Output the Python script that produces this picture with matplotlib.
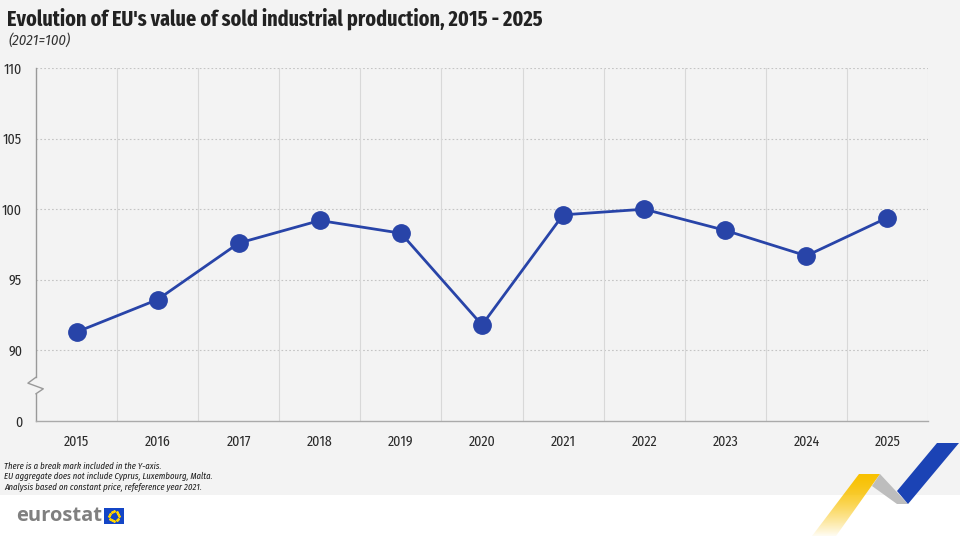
import numpy as np
import matplotlib.pyplot as plt
from matplotlib.patches import Polygon, Rectangle

years = ['2015', '2016', '2017', '2018', '2019', '2020',
         '2021', '2022', '2023', '2024', '2025']
values = [91.3, 93.6, 97.6, 99.2, 98.3, 91.8, 99.6, 100.0, 98.5, 96.7, 99.4]
y_ticks = [85, 90, 95, 100, 105, 110]
y_tick_labels = ['0', '90', '95', '100', '105', '110']

title = "Evolution of EU's value of sold industrial production, 2015 - 2025"
subtitle = "(2021=100)"
notes = ["There is a break mark included in the Y-axis.",
         "EU aggregate does not include Cyprus, Luxembourg, Malta.",
         "Analysis based on constant price, refeference year 2021."]

W, H = 960, 538
BG = '#f3f3f3'
BLUE = '#2844a8'
NARROW = ['Fira Sans Condensed', 'DejaVu Sans']
XNARROW = ['Fira Sans Extra Condensed', 'Fira Sans Condensed', 'DejaVu Sans']

fig = plt.figure(figsize=(W / 100, H / 100), dpi=100)
fig.patch.set_facecolor(BG)


def fx(px):
    return px / W


def fy(py):
    return 1 - py / H


# overlay for footer, logo and ribbons (pixel coords)
deco = fig.add_axes([0, 0, 1, 1], zorder=0)
deco.set_xlim(0, W)
deco.set_ylim(H, 0)
deco.axis('off')
deco.add_patch(Rectangle((0, 495), W, H - 495, color='white', lw=0))

ax = fig.add_axes([fx(36), fy(421), fx(928) - fx(36), fy(68) - fy(421)], zorder=2)
ax.set_facecolor('none')
x = np.arange(len(years))
ax.plot(x, values, color=BLUE, lw=2.0, marker='o', markersize=12.5,
        markerfacecolor=BLUE, markeredgecolor=BLUE, zorder=3)

ax.set_xlim(-0.5, len(years) - 0.5)
ax.set_ylim(85, 110)
ax.set_xticks(x)
ax.set_xticklabels(years)
ax.set_yticks(y_ticks)
ax.set_yticklabels(y_tick_labels)
ax.tick_params(length=0, labelsize=10, colors='#2a2a2a')
ax.tick_params(axis='x', pad=10)
ax.tick_params(axis='y', pad=10)
for lab in ax.get_xticklabels() + ax.get_yticklabels():
    lab.set_family(NARROW)

# grid: dotted horizontals, solid verticals at category borders
for v in y_ticks[1:]:
    ax.axhline(v, color='#c4c4c4', lw=0.8, ls=(0, (1.5, 2)), zorder=1)
for b in np.arange(0.5, len(years) - 0.4, 1.0):
    ax.axvline(b, color='#d8d8d8', lw=0.8, zorder=1)

for side in ['top', 'right', 'left']:
    ax.spines[side].set_visible(False)
ax.spines['bottom'].set_color('#aaaaaa')
ax.spines['bottom'].set_linewidth(1.0)

# left axis with break mark
sp_col = '#999999'
ax.plot([-0.5, -0.5], [85, 86.93], color=sp_col, lw=1.0, clip_on=False)
ax.plot([-0.5, -0.5], [88.1, 110], color=sp_col, lw=1.0, clip_on=False)
ax.plot([-0.5, -0.6, -0.41, -0.5], [88.1, 87.68, 87.28, 86.93],
        color=sp_col, lw=1.0, clip_on=False)

fig.text(fx(7), fy(19), title, fontsize=15.7, fontweight='bold', color='#222222',
         family=XNARROW, va='center', ha='left')
fig.text(fx(8), fy(40), subtitle, fontsize=10.5, style='italic', color='#333333',
         family=NARROW, va='center', ha='left')
for i, n in enumerate(notes):
    fig.text(fx(4), fy(466 + i * 10.5), n, fontsize=6.8, style='italic',
             color='#222222', family=XNARROW, va='center', ha='left')

# eurostat logo
deco.text(16, 516, 'eurostat', fontsize=14.5, fontweight='bold', color='#808080',
          va='center', ha='left', family=['Open Sans', 'DejaVu Sans'])
deco.add_patch(Rectangle((104, 508), 20, 16, color='#1446c6', lw=0))
ang = np.linspace(0, 2 * np.pi, 12, endpoint=False)
deco.scatter(114 + 5 * np.cos(ang), 516 + 5 * np.sin(ang), s=1.2,
             color='#ffd200', marker='*', zorder=3)

# ribbons
grad = np.linspace(0, 1, 256).reshape(-1, 1)
yellow = Polygon([(859, 474), (880, 474), (836, 536), (812, 536)],
                 closed=True, fc='none', ec='none')
deco.add_patch(yellow)
img = np.ones((256, 1, 4))
img[..., 0] = 0.98
img[..., 1] = 0.76
img[..., 2] = 0.0
img[..., 3] = 1 - 0.95 * grad ** 1.5
im = deco.imshow(img, extent=(805, 885, 536, 474), aspect='auto', zorder=2)
im.set_clip_path(yellow)
gray = Polygon([(872, 486), (880, 474), (908, 504), (897, 504)], closed=True,
               fc='#bdbdbd', ec='none', zorder=2)
deco.add_patch(gray)
blue = Polygon([(897, 491), (937, 443), (959, 443), (908, 504)], closed=True,
               fc='#1b43b5', ec='none', zorder=3)
deco.add_patch(blue)
deco.set_xlim(0, W)
deco.set_ylim(H, 0)

fig.savefig('out.png', dpi=100, facecolor=fig.get_facecolor())
